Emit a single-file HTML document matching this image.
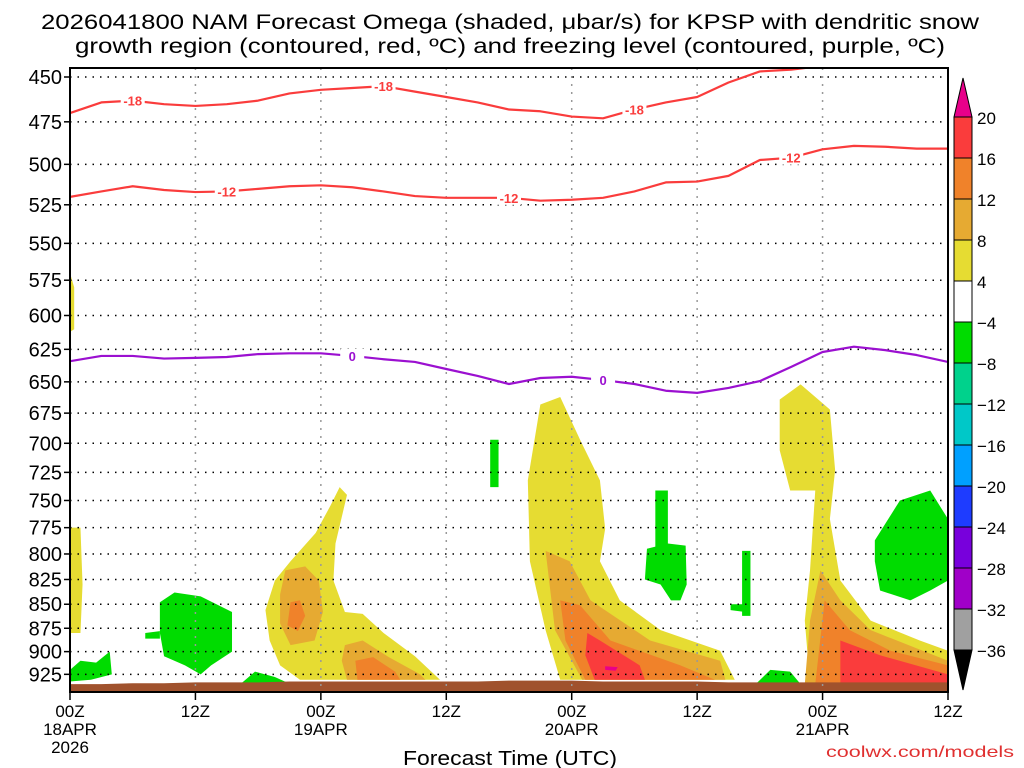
<!DOCTYPE html>
<html><head><meta charset="utf-8"><style>
html,body{margin:0;padding:0;background:#fff;}
svg{display:block;font-family:"Liberation Sans",sans-serif;}
</style></head><body>
<svg id="c" width="1024" height="768" viewBox="0 0 1024 768">
<text x="510" y="29" font-size="21" text-anchor="middle" textLength="938" lengthAdjust="spacingAndGlyphs">2026041800 NAM Forecast Omega (shaded, μbar/s) for KPSP with dendritic snow</text>
<text x="510" y="53" font-size="21" text-anchor="middle" textLength="870" lengthAdjust="spacingAndGlyphs">growth region (contoured, red, ºC) and freezing level (contoured, purple, ºC)</text>
<g id="shade"></g><g id="grid"></g><g id="lines"></g><g id="axes"></g><g id="cbar"></g>
<text x="510" y="765" font-size="20" text-anchor="middle" textLength="214" lengthAdjust="spacingAndGlyphs">Forecast Time (UTC)</text>
<text x="1014" y="757" font-size="16" fill="#e03030" text-anchor="end" textLength="188" lengthAdjust="spacingAndGlyphs">coolwx.com/models</text>
</svg>
<script>
const NS="http://www.w3.org/2000/svg";
// ---- data ----
const pLevels=[450,475,500,525,550,575,600,625,650,675,700,725,750,775,800,825,850,875,900,925];
const hours=[0,3,6,9,12,15,18,21,24,27,30,33,36,39,42,45,48,51,54,57,60,63,66,69,72,75,78,81,84];
const timeTicks=[0,12,24,36,48,60,72,84];
const timeLab1=["00Z","12Z","00Z","12Z","00Z","12Z","00Z","12Z"];
const timeLab2=["18APR","","19APR","","20APR","","21APR",""];
const timeLab3=["2026","","","","","","",""];
const isoM18=[470,464,463,465,466,465,463,459,457,456,455,458,461,464,468,469,472,473,468,464,461,453,447,446,444,443,442,442,442];
const isoM12=[520,516.6,513.4,515.7,517,516.6,515,513.4,512.8,514,516.6,519.5,520.6,520.6,520.6,522.4,521.8,520.6,516.6,511,510.5,507,497.4,496,491,489,489.5,490.6,490.6];
const iso0=[634,630,630,632,631.5,630.8,628.6,628,628,630,632.5,634.6,640,645.4,651.7,647,646,648.6,651.7,657,658.7,654.8,649.4,638.4,627,623,625.6,629.3,634.6];
const cbLevels=[20,16,12,8,4,-4,-8,-12,-16,-20,-24,-28,-32,-36];
const cbColors=["#fa3c3c","#f0822a","#e6aa32","#e6dc32","#ffffff","#00dc00","#00d28c","#00c8c8","#00a0ff","#1e3cff","#7800dc","#a000c8","#a0a0a0"];
// shaded regions: [hour, hPa] vertices, with omega class colour
const regions=[
 {c:"#e6dc32",pts:[[0,775],[1,775],[1.2,830],[1,880],[0,880]]},
 {c:"#e6dc32",pts:[[0,570],[0.4,580],[0.4,610],[0,612]]},
 {c:"#00dc00",pts:[[0,920],[1,910],[2.5,912],[3.8,900],[4,925],[2,931],[0,933]]},
 {c:"#00dc00",pts:[[8.6,848],[10,838],[12.5,842],[15.5,858],[15.5,900],[13.5,915],[12.5,925],[11,915],[9,905],[8.6,880]]},
 {c:"#00dc00",pts:[[7.2,880],[8.6,878],[8.6,886],[7.2,886]]},
 {c:"#00dc00",pts:[[16.3,936],[17.7,922],[19.6,928],[21.1,936]]},
 {c:"#e6dc32",pts:[[25.8,738],[26.5,745],[25.4,790],[25.2,826],[26.3,858],[28,860],[30,880],[33,905],[35.4,931],[22,931],[20.1,915],[19.1,888],[18.7,856],[19.6,826],[21.1,807],[23.5,780],[24.9,755]]},
 {c:"#e6aa32",pts:[[20.6,816],[22.5,812],[23.8,826],[24.2,858],[23.4,888],[21.1,893],[20.1,870],[20.1,840]]},
 {c:"#f0822a",pts:[[21.1,848],[22,846],[22.5,862],[21.8,878],[20.8,872]]},
 {c:"#e6aa32",pts:[[26.3,893],[28,888],[30.5,906],[33.5,925],[34,931],[26.5,931],[26,910]]},
 {c:"#f0822a",pts:[[27.3,910],[29,906],[31.1,922],[31.6,931],[27.5,931]]},
 {c:"#00dc00",pts:[[40.2,697],[41,697],[41,738],[40.2,738]]},
 {c:"#e6dc32",pts:[[45,668],[46.9,662],[48.8,697],[50.7,732],[51.2,776],[50.7,807],[52.6,846],[56.5,877],[62.2,899],[63.6,931],[46.9,931],[45.5,877],[44,807],[43.8,732]]},
 {c:"#e6aa32",pts:[[45.5,797],[47.8,807],[49.8,846],[55.5,888],[62.2,910],[62.7,931],[49,931],[46.4,877]]},
 {c:"#f0822a",pts:[[46.9,846],[48.8,851],[51.7,888],[58.4,915],[61.7,931],[49.3,931],[47.4,888]]},
 {c:"#fa3c3c",pts:[[49.5,880],[50.7,888],[54.5,915],[55,931],[50.2,931],[49.3,904]]},
 {c:"#e8008a",pts:[[51.2,916],[52.4,917],[52.2,921],[51.2,920]]},
 {c:"#00dc00",pts:[[56,741],[57.2,741],[57.2,807],[56,807]]},
 {c:"#00dc00",pts:[[57.2,790],[58.9,792],[59,830],[58.4,846],[57.5,846],[56.5,830],[55,825],[55.2,795]]},
 {c:"#00dc00",pts:[[63.2,850],[64.6,850],[64.6,858],[63.2,856]]},
 {c:"#00dc00",pts:[[64.3,797],[65.1,797],[65.1,862],[64.3,862]]},
 {c:"#00dc00",pts:[[65.6,936],[67,920],[68.9,922],[69.9,936]]},
 {c:"#e6dc32",pts:[[67.9,664],[69.9,652],[72.7,672],[73.2,723],[72.7,767],[73.7,826],[76.6,867],[81.3,888],[84,899],[84,936],[70.8,936],[70.3,867],[70.8,816],[71.3,741],[68.9,741],[67.9,706]]},
 {c:"#e6aa32",pts:[[71.8,816],[73.7,846],[76.6,877],[84,910],[84,936],[70.3,936],[70.8,867]]},
 {c:"#f0822a",pts:[[72.2,846],[74.6,877],[78.5,899],[84,915],[84,936],[71.3,936]]},
 {c:"#fa3c3c",pts:[[73.7,888],[77.5,904],[84,925],[84,936],[73.7,936]]},
 {c:"#00dc00",pts:[[77,787],[79.4,750],[82.3,741],[84,767],[84,826],[82.3,836],[80.4,846],[77.5,836],[77,807]]}
];
const groundTop=[936,936,935,935,934,934,934,933,933,933,933,933,933,933,932,932,932,933,933,933,933,934,934,934,934,934,934,934,934];
// ---- axes ----
const X0=70,X1=948,Y0=68,Y1=692;
const xS=h=>X0+(X1-X0)*h/84;
const yS=p=>77+829*Math.log(p/450);
const clip=document.createElementNS(NS,"clipPath");clip.setAttribute("id","pc");
const cr=document.createElementNS(NS,"rect");cr.setAttribute("x",X0);cr.setAttribute("y",Y0);cr.setAttribute("width",X1-X0);cr.setAttribute("height",Y1-Y0);clip.appendChild(cr);
document.getElementById("c").appendChild(clip);
function mk(tag,attrs,parent){const e=document.createElementNS(NS,tag);for(const k in attrs)e.setAttribute(k,attrs[k]);parent.appendChild(e);return e;}
const shade=document.getElementById("shade");shade.setAttribute("clip-path","url(#pc)");
regions.forEach((r,i)=>{
 const e=mk("polygon",{points:r.pts.map(q=>xS(q[0])+","+yS(q[1])).join(" "),fill:r.c},shade);
 
 
});
{let pts=hours.map((h,i)=>xS(h)+","+yS(groundTop[i]));pts.push(xS(84)+","+Y1,xS(0)+","+Y1);
 const g=mk("polygon",{points:pts.join(" "),fill:"#a0522d"},shade);
 
 }
const grid=document.getElementById("grid");
pLevels.forEach(p=>{
 const l=mk("line",{x1:X0,x2:X1,y1:yS(p),y2:yS(p),stroke:"#000","stroke-width":1.5,"stroke-dasharray":"1.5 6"},grid);
 
 
});
timeTicks.slice(1,-1).forEach(h=>{
 const l=mk("line",{x1:xS(h),x2:xS(h),y1:Y0,y2:Y1,stroke:"#999","stroke-width":1.5,"stroke-dasharray":"2 6"},grid);
 
 
});
const lines=document.getElementById("lines");lines.setAttribute("clip-path","url(#pc)");
function iso(arr,col,name,labs){
 const d=hours.map((h,i)=>(i?"L":"M")+xS(h)+" "+yS(arr[i])).join(" ");
 const e=mk("path",{d:d,fill:"none",stroke:col,"stroke-width":2.2,"stroke-linejoin":"round"},lines);
 
 
 labs.forEach(([i,t])=>{
  const x=xS(hours[i]),y=yS(arr[i]);
  mk("rect",{x:x-12,y:y-7,width:24,height:14,fill:"#fff"},lines);
  const tx=mk("text",{x:x,y:y+5,"font-size":13,"font-weight":"bold",fill:col,"text-anchor":"middle"},lines);
  tx.textContent=t;
  
  
 });
}
iso(isoM18,"#fa3c3c","isotherm-minus18",[[2,"-18"],[10,"-18"],[18,"-18"]]);
iso(isoM12,"#fa3c3c","isotherm-minus12",[[5,"-12"],[14,"-12"],[23,"-12"]]);
iso(iso0,"#9b10d0","freezing-level",[[9,"0"],[17,"0"]]);
const ax=document.getElementById("axes");
mk("rect",{x:X0,y:Y0,width:X1-X0,height:Y1-Y0,fill:"none",stroke:"#000","stroke-width":2},ax);
pLevels.forEach(p=>{
 mk("line",{x1:X0-6,x2:X0,y1:yS(p),y2:yS(p),stroke:"#000","stroke-width":1.5},ax);
 const t=mk("text",{x:62,y:yS(p)+7,"font-size":20,"text-anchor":"end"},ax);t.textContent=p;
 
 
});
timeTicks.forEach((h,i)=>{
 mk("line",{x1:xS(h),x2:xS(h),y1:Y1,y2:Y1+8,stroke:"#000","stroke-width":1.5},ax);
 [timeLab1[i],timeLab2[i],timeLab3[i]].forEach((s,k)=>{if(!s)return;
  const t=mk("text",{x:xS(h),y:717+k*18,"font-size":17,"text-anchor":"middle"},ax);t.textContent=s;
  
  });
});
// ---- colorbar ----
const cb=document.getElementById("cbar");
const CX=954,CW=18,cY0=117,cY1=650,step=(cY1-cY0)/(cbLevels.length-1);
mk("polygon",{points:`${CX},${cY0} ${CX+CW/2},78 ${CX+CW},${cY0}`,fill:"#e8008a",stroke:"#000"},cb);
cbColors.forEach((c,i)=>{
 const r=mk("rect",{x:CX,y:cY0+i*step,width:CW,height:step,fill:c,stroke:"#000","stroke-width":1},cb);
 
 
});
mk("polygon",{points:`${CX},${cY1} ${CX+CW/2},690 ${CX+CW},${cY1}`,fill:"#000",stroke:"#000"},cb);
cbLevels.forEach((v,i)=>{
 const t=mk("text",{x:CX+CW+5,y:cY0+i*step+7,"font-size":17},cb);
 t.textContent=v<0?"−"+(-v):v;
 
 
});
</script>
</body></html>
